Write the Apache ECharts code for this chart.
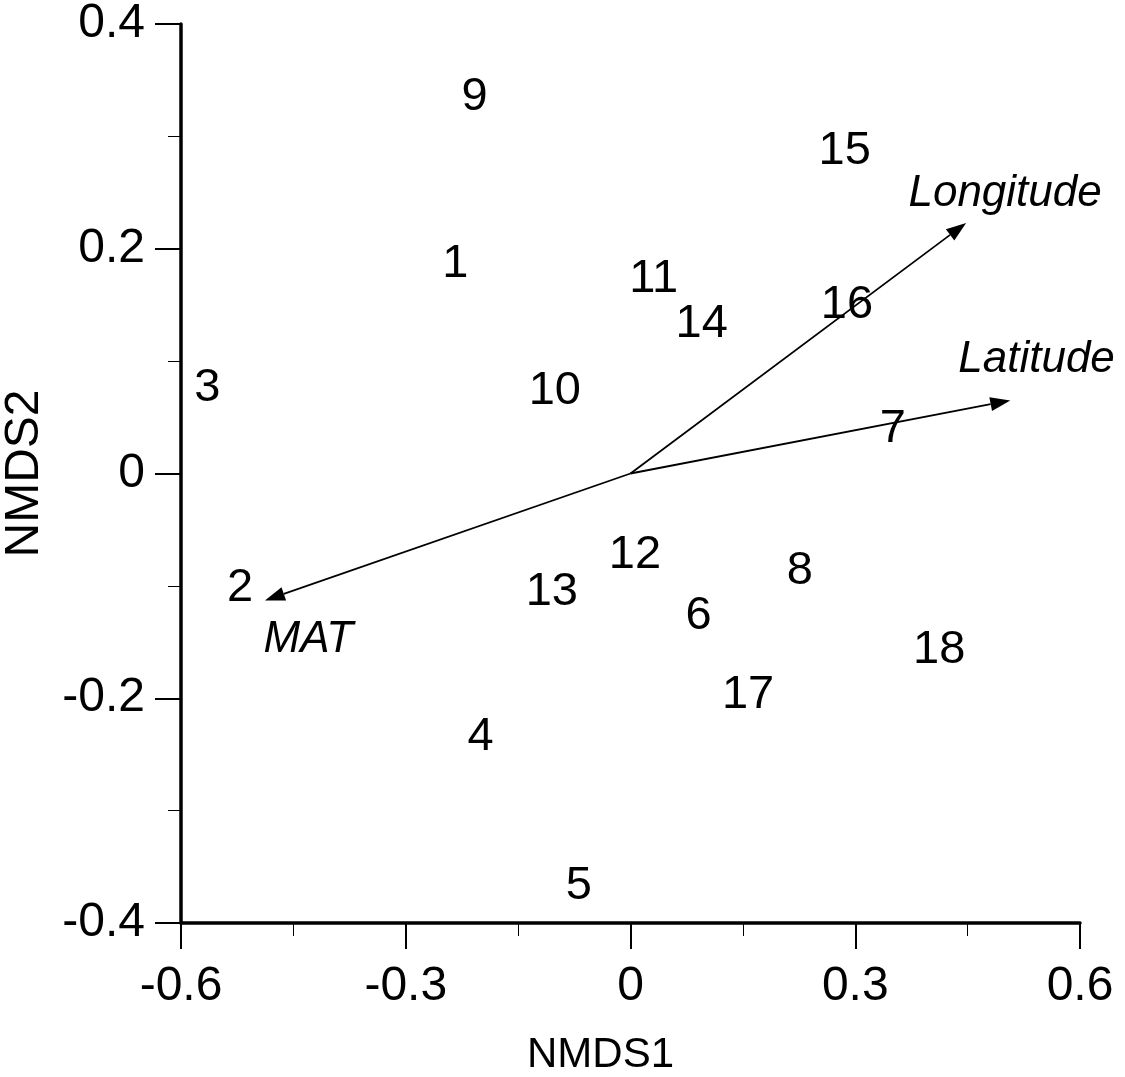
<!DOCTYPE html>
<html>
<head>
<meta charset="utf-8">
<script src="https://cdn.jsdelivr.net/npm/echarts@6/dist/echarts.min.js"></script>
<style>
  html, body { margin: 0; padding: 0; background: #fff; }
  #chart { width: 1125px; height: 1077px; }
</style>
</head>
<body>
<div id="chart"></div>
<script>
// site scores (NMDS)
var siteIds = ['1','2','3','4','5','6','7','8','9','10','11','12','13','14','15','16','17','18'];
var nmds1 = [-0.234,-0.521,-0.565,-0.200,-0.069, 0.091, 0.350, 0.226,-0.208,-0.101, 0.031, 0.006,-0.105, 0.095, 0.286, 0.289, 0.157, 0.412];
var nmds2 = [ 0.188,-0.100, 0.078,-0.233,-0.365,-0.125, 0.041,-0.085, 0.337, 0.075, 0.175,-0.071,-0.104, 0.135, 0.289, 0.152,-0.195,-0.155];
// environmental vectors (envfit)
var vecNames = ['Longitude','Latitude','MAT'];
var vecX = [0.448, 0.507, -0.488];
var vecY = [0.223, 0.065, -0.113];
// where the vector names sit
var vecLabelX = [0.500, 0.542, -0.430];
var vecLabelY = [0.251, 0.103, -0.146];
// ticks
var xTicks = [-0.6, 0.6, 0.3];   // min, max, interval
var yTicks = [-0.4, 0.4, 0.2];

var FONT = "'Liberation Sans', Arial, sans-serif";

var sites = [];
for (var i = 0; i < siteIds.length; i++) {
    sites.push({name: siteIds[i], value: [nmds1[i], nmds2[i]]});
}
var vecs = [];
var vecLabels = [];
for (var j = 0; j < vecNames.length; j++) {
    vecs.push({name: vecNames[j], value: [vecX[j], vecY[j]]});
    vecLabels.push({name: vecNames[j], value: [vecLabelX[j], vecLabelY[j]]});
}

function axisCommon() {
    return {
        type: 'value',
        splitLine: {show: false},
        axisLine: {show: true, onZero: false, lineStyle: {color: '#000', width: 3.5}},
        axisTick: {show: true, inside: false, length: 26, lineStyle: {color: '#000', width: 2}},
        minorTick: {show: true, splitNumber: 2, length: 13, lineStyle: {color: '#000', width: 1}},
        axisLabel: {color: '#000', fontSize: 48, fontFamily: FONT},
        nameTextStyle: {color: '#000', fontFamily: FONT}
    };
}

var xAxis = axisCommon();
xAxis.min = xTicks[0]; xAxis.max = xTicks[1]; xAxis.interval = xTicks[2];
xAxis.axisLabel.margin = 40;
xAxis.name = 'NMDS1';
xAxis.nameLocation = 'middle';
xAxis.nameGap = 111;
xAxis.nameTextStyle.fontSize = 42;
xAxis.nameTextStyle.padding = [0, 60, 0, 0];

var yAxis = axisCommon();
yAxis.min = yTicks[0]; yAxis.max = yTicks[1]; yAxis.interval = yTicks[2];
yAxis.axisLabel.margin = 36;
yAxis.axisLabel.padding = [4, 0, 0, 0];
yAxis.name = 'NMDS2';
yAxis.nameLocation = 'middle';
yAxis.nameGap = 132;
yAxis.nameTextStyle.fontSize = 48;

// text placed at a data point
function textItem(size, italic) {
    return function (params, api) {
        var p = api.coord([api.value(0), api.value(1)]);
        return {
            type: 'text',
            x: p[0],
            y: p[1] + 2,
            style: {
                text: sitesOrVec(params),
                fill: '#000',
                fontSize: size,
                fontStyle: italic ? 'italic' : 'normal',
                fontFamily: FONT,
                align: 'center',
                verticalAlign: 'middle'
            }
        };
    };
}
function sitesOrVec(params) {
    return params.seriesIndex === 1 ? siteIds[params.dataIndex] : vecNames[params.dataIndex];
}

var myChart = echarts.init(document.getElementById('chart'), null, {renderer: 'canvas'});
var option = {
    backgroundColor: '#fff',
    animation: false,
    grid: {left: 181, right: 45, top: 24, bottom: 154, containLabel: false, outerBoundsMode: 'none'},
    xAxis: xAxis,
    yAxis: yAxis,
    series: [
        {
            // arrows from the origin
            type: 'custom',
            data: vecs,
            renderItem: function (params, api) {
                var p0 = api.coord([0, 0]);
                var p1 = api.coord([api.value(0), api.value(1)]);
                var dx = p1[0] - p0[0], dy = p1[1] - p0[1];
                var len = Math.sqrt(dx * dx + dy * dy);
                var ux = dx / len, uy = dy / len;
                var headLen = 20, headHalf = 7;
                var bx = p1[0] - ux * headLen, by = p1[1] - uy * headLen;
                return {
                    type: 'group',
                    children: [
                        {
                            type: 'line',
                            shape: {x1: p0[0], y1: p0[1], x2: bx, y2: by},
                            style: {stroke: '#000', lineWidth: 1.8}
                        },
                        {
                            type: 'polygon',
                            shape: {points: [
                                [p1[0], p1[1]],
                                [bx - uy * headHalf, by + ux * headHalf],
                                [bx + uy * headHalf, by - ux * headHalf]
                            ]},
                            style: {fill: '#000'}
                        }
                    ]
                };
            },
            z: 3
        },
        {
            // site numbers
            type: 'custom',
            data: sites,
            renderItem: textItem(47, false),
            z: 4
        },
        {
            // vector names
            type: 'custom',
            data: vecLabels,
            renderItem: textItem(44, true),
            z: 4
        }
    ]
};
myChart.setOption(option);
</script>
</body>
</html>
